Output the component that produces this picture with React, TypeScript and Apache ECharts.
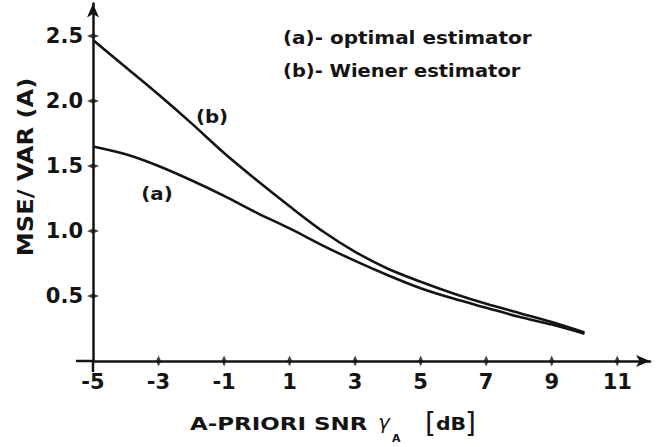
import React, { useEffect, useRef } from "react";
import * as echarts from "echarts";

const xValues = [-5, -4, -3, -2, -1, 0, 1, 2, 3, 4, 5, 6, 7, 8, 9, 10];
const optimal = [1.65, 1.59, 1.5, 1.39, 1.27, 1.14, 1.02, 0.89, 0.77, 0.66, 0.56, 0.48, 0.41, 0.34, 0.28, 0.21];
const wiener = [2.47, 2.26, 2.05, 1.83, 1.6, 1.39, 1.19, 1.0, 0.84, 0.71, 0.61, 0.52, 0.44, 0.37, 0.3, 0.22];
const xTicks = [-3, -1, 1, 3, 5, 7, 9, 11];
const yTicks = [0.5, 1.0, 1.5, 2.0, 2.5];
const legendLines = ["(a)- optimal estimator", "(b)- Wiener estimator"];

const FONT = "'DejaVu Sans', 'Liberation Sans', sans-serif";
const INK = "#141414";

export default function App() {
  const ref = useRef<HTMLDivElement>(null);
  useEffect(() => {
    if (!ref.current) return;
    const chart = echarts.init(ref.current, null, { renderer: "svg" });
    const txt = (
      text: string,
      x: number,
      y: number,
      size: number,
      opts: any = {}
    ) => ({
      type: "text",
      x,
      y,
      scaleX: opts.scaleX ?? 1,
      rotation: opts.rotation ?? 0,
      silent: true,
      style: {
        text,
        fill: INK,
        font: `${opts.style ?? "normal"} ${opts.weight ?? "bold"} ${size}px ${FONT}`,
        align: opts.align ?? "left",
        verticalAlign: "middle",
        textAlign: opts.align ?? "left",
        textVerticalAlign: "middle",
      },
    });
    chart.setOption({
      animation: false,
      grid: { left: 93, right: 7, top: 3.5, bottom: 86, containLabel: false },
      xAxis: {
        type: "value",
        min: -5,
        max: 12,
        interval: 2,
        axisLine: {
          onZero: false,
          lineStyle: { color: INK, width: 2.5 },
          symbol: ["none", "arrow"],
          symbolSize: [9, 14],
        },
        axisTick: { show: false },
        splitLine: { show: false },
        axisLabel: {
          showMaxLabel: false,
          margin: 10,
          color: INK,
          fontFamily: FONT,
          fontWeight: "bold",
          fontSize: 21,
          formatter: (v: number) => (Number.isInteger(v) && v <= 11 ? String(v) : ""),
        },
      },
      yAxis: {
        type: "value",
        min: 0,
        max: 2.75,
        interval: 0.5,
        axisLine: {
          show: true,
          onZero: false,
          lineStyle: { color: INK, width: 2.5 },
          symbol: ["none", "arrow"],
          symbolSize: [9, 14],
        },
        axisTick: { show: false },
        splitLine: { show: false },
        axisLabel: {
          showMinLabel: false,
          showMaxLabel: false,
          margin: 10,
          color: INK,
          fontFamily: FONT,
          fontWeight: "bold",
          fontSize: 21,
          formatter: (v: number) => (v > 0 && v <= 2.5 ? v.toFixed(1) : ""),
        },
      },
      series: [
        {
          name: "(a)",
          type: "line",
          data: xValues.map((x, i) => [x, optimal[i]]),
          smooth: 0.3,
          showSymbol: false,
          lineStyle: { color: INK, width: 2.6 },
        },
        {
          name: "(b)",
          type: "line",
          data: xValues.map((x, i) => [x, wiener[i]]),
          smooth: 0.3,
          showSymbol: false,
          lineStyle: { color: INK, width: 2.6 },
        },
        {
          type: "scatter",
          data: xTicks.map((x) => [x, 0]),
          symbol: "diamond",
          symbolSize: [5, 11],
          itemStyle: { color: INK },
          clip: false,
          silent: true,
        },
        {
          type: "scatter",
          data: yTicks.map((y) => [-5, y]),
          symbol: "diamond",
          symbolSize: [12, 5],
          itemStyle: { color: INK },
          clip: false,
          silent: true,
        },
      ],
      graphic: [
        { type: "line", shape: { x1: 76, y1: 361, x2: 93, y2: 361 }, style: { stroke: INK, lineWidth: 2.5 }, silent: true },
        { type: "line", shape: { x1: 93, y1: 361, x2: 93, y2: 372 }, style: { stroke: INK, lineWidth: 2.5 }, silent: true },
        txt(legendLines[0], 283, 37, 18, { scaleX: 1.11 }),
        txt(legendLines[1], 283, 71, 18, { scaleX: 1.08 }),
        txt("(b)", 212, 116, 18, { align: "center", scaleX: 1.1 }),
        txt("(a)", 157, 193, 18, { align: "center", scaleX: 1.1 }),
        txt("MSE/ VAR (A)", 26, 167, 21, { align: "center", scaleX: 1.15, rotation: Math.PI / 2 }),
        txt("A-PRIORI SNR", 190, 424, 17, { scaleX: 1.35 }),
        txt("γ", 378, 422, 20, { style: "italic", weight: "normal" }),
        txt("A", 392, 438, 11),
        txt("[", 425, 423, 28, { weight: "normal" }),
        txt("dB", 436, 424, 17, { scaleX: 1.2 }),
        txt("]", 465, 423, 28, { weight: "normal" }),
      ],
    });
    return () => chart.dispose();
  }, []);
  return (
    <div
      ref={ref}
      style={{ position: "fixed", left: 0, top: 0, width: 657, height: 447, background: "#fff" }}
    />
  );
}
